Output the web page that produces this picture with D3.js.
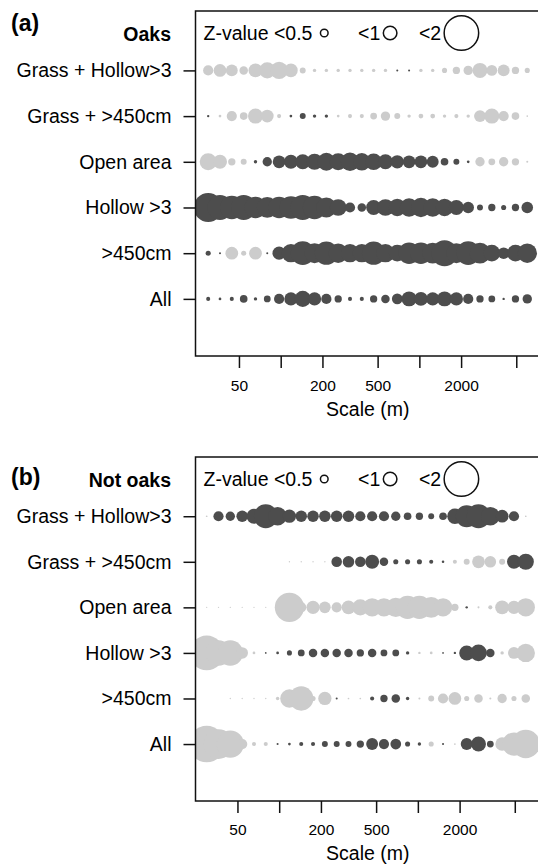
<!DOCTYPE html>
<html><head><meta charset="utf-8">
<script src="https://cdn.jsdelivr.net/npm/d3@7"></script>
<style>
body{margin:0;background:#fff}
svg{display:block}
text{font-family:"Liberation Sans",Arial,Helvetica,sans-serif;fill:#000}
</style>
</head><body>
<svg id="chart" width="538" height="864"></svg>
<script>
// ---- data ----
const scalesM = [30, 36.5, 44.4, 54.1, 65.8, 80.0, 97.4, 118.5, 144.2, 175.4, 213.5, 259.8, 316.1, 384.6,
                 468.0, 569.5, 693.0, 843.2, 1026, 1248, 1519, 1849, 2250, 2737, 3331, 4053, 4932, 6000];
const habitats = ["Grass + Hollow>3", "Grass + >450cm", "Open area", "Hollow >3", ">450cm", "All"];

// signed Z-values (positive = dark, negative = light), one per scale; null = not shown
const oaksGrassHollow = [-0.6,-0.75,-0.7,-0.5,-0.82,-0.95,-1.02,-0.8,-0.35,-0.2,-0.2,-0.2,-0.2,-0.2,-0.2,-0.2,0.12,0.12,-0.2,-0.2,-0.3,-0.43,-0.55,-0.88,-0.63,-0.7,-0.43,-0.3];
const oaksGrass450   = [0.14,-0.16,-0.6,-0.45,-0.88,-0.75,-0.24,0.16,0.35,0.2,0.2,-0.16,-0.24,-0.24,-0.4,-0.55,-0.35,-0.2,-0.28,-0.28,-0.2,-0.24,-0.2,-0.7,-0.88,-0.6,-0.45,-0.1];
const oaksOpen       = [-1.0,-0.82,-0.43,-0.35,0.2,0.55,0.75,0.82,0.88,0.95,1.05,1.0,1.08,1.02,0.98,0.88,0.78,0.75,0.75,0.7,0.45,0.35,0.16,-0.55,-0.4,-0.55,-0.43,-0.12];
const oaksHollow     = [1.7,1.47,1.37,1.47,1.27,1.22,1.27,1.33,1.47,1.37,1.18,0.98,0.6,0.5,0.88,0.98,1.02,1.08,1.14,1.08,1.02,0.88,0.68,0.35,0.43,0.3,0.43,0.68];
const oaks450        = [0.3,0.12,-0.75,-0.3,-0.75,0.12,0.78,1.08,1.4,1.18,1.37,1.14,1.08,1.08,1.37,1.08,0.98,1.27,1.27,1.22,1.53,1.18,1.4,1.22,0.98,0.68,0.98,1.14];
const oaksAll        = [0.24,0.16,0.24,0.45,0.2,0.4,0.6,0.78,0.95,0.78,0.6,0.43,0.24,0.24,0.43,0.5,0.63,0.88,0.82,0.78,0.88,0.78,0.6,0.43,0.4,0.14,0.43,0.55];

const notGrassHollow = [-0.1,0.6,0.55,0.68,0.88,1.4,1.08,0.78,0.68,0.68,0.68,0.68,0.68,0.6,0.6,0.6,0.55,0.45,0.43,0.35,0.45,0.9,1.3,1.4,1.1,0.75,0.6,-0.1];
const notGrass450    = [null,null,null,null,null,null,null,-0.08,-0.08,-0.08,-0.08,0.62,0.68,0.62,0.82,0.5,0.3,0.3,0.3,0.24,0.15,-0.24,-0.35,-0.75,-0.68,-0.35,0.82,0.95];
const notOpen        = [-0.08,-0.08,-0.08,-0.08,-0.08,-0.08,-0.1,-1.72,-0.6,-0.78,-0.68,-0.6,-0.8,-0.95,-1.08,-1.08,-1.14,-1.37,-1.37,-1.22,-1.08,-0.43,0.14,-0.12,-0.24,-0.82,-0.78,-1.08];
const notHollow      = [-2.04,-1.5,-1.5,-0.68,-0.16,0.1,0.16,0.3,0.4,0.5,0.5,0.5,0.5,0.43,0.5,0.4,0.4,0.2,-0.14,-0.16,0.1,0.14,0.88,0.98,0.5,-0.2,-0.7,-1.08];
const not450         = [null,null,-0.08,-0.08,-0.08,-0.08,-0.2,-1.08,-1.43,-0.3,-0.78,0.12,-0.1,-0.1,0.24,0.43,0.5,0.2,-0.12,-0.35,-0.6,-0.75,-0.3,-0.5,-0.12,-0.55,-0.3,-0.5];
const notAll         = [-2.15,-1.75,-1.6,-0.6,-0.24,-0.24,0.12,0.16,0.24,0.24,0.35,0.35,0.35,0.43,0.7,0.6,0.63,0.3,0.2,-0.3,0.12,-0.1,0.7,0.88,0.4,-0.8,-1.37,-1.67];

const tickValues = [50, 100, 200, 500, 1000, 2000, 5000];
const tickLabels = ["50", "", "200", "500", "", "2000", ""];
const legendLabels = ["Z-value <0.5", "<1", "<2"];
const legendSizes = [0.45, 0.8, 2.03];
const panelLetters = ["(a)", "(b)"];
const panelTitles = ["Oaks", "Not oaks"];
const axisTitle = "Scale (m)";

const panelRows = [
  [oaksGrassHollow, oaksGrass450, oaksOpen, oaksHollow, oaks450, oaksAll],
  [notGrassHollow, notGrass450, notOpen, notHollow, not450, notAll]
];

// ---- layout ----
const svg = d3.select("#chart");
const left = 195.5, right = 540;
const panelsLayout = [
  {top: 11, bottom: 356, letterY: 31, titleY: 40.5, tickLabelY: 12, titleAxisY: 416, dx: 0},
  {top: 457, bottom: 801, letterY: 485, titleY: 486.5, tickLabelY: 11, titleAxisY: 860, dx: -1.5}
];
const dark = "#4d4d4d", light = "#cccccc";
const rScale = d3.scaleLinear().domain([0, 2]).range([0, 17]);
const legendGaps = [30, 22, 0];

panelsLayout.forEach((L, p) => {
  const x = d3.scaleLog().domain([24.3, 7413]).range([left + L.dx, right + L.dx]);
  const y = d3.scaleLinear().domain([-1.25, 6.3]).range([L.bottom, L.top]);
  const g = svg.append("g");

  const clipId = "clip" + p;
  svg.append("clipPath").attr("id", clipId).append("rect")
    .attr("x", left).attr("y", L.top).attr("width", right - left).attr("height", L.bottom - L.top);

  const pts = g.append("g").attr("clip-path", `url(#${clipId})`);
  panelRows[p].forEach((vals, i) => {
    const rowVal = 5 - i;
    const data = vals.map((z, j) => ({z, s: scalesM[j]})).filter(d => d.z !== null);
    pts.selectAll(null).data(data).enter().append("circle")
      .attr("cx", d => x(d.s))
      .attr("cy", y(rowVal))
      .attr("r", d => rScale(Math.abs(d.z)))
      .attr("fill", d => d.z > 0 ? dark : light);
  });

  // frame
  g.append("rect").attr("x", left).attr("y", L.top)
    .attr("width", right - left).attr("height", L.bottom - L.top)
    .attr("fill", "none").attr("stroke", "#111").attr("stroke-width", 1.5);

  // left axis
  const ya = g.append("g").attr("transform", `translate(${left},0)`)
    .call(d3.axisLeft(y).tickValues([0,1,2,3,4,5]).tickFormat(d => habitats[5 - d]).tickSize(12).tickPadding(12));
  ya.select(".domain").remove();
  ya.selectAll(".tick line").attr("stroke", "#111").attr("stroke-width", 1.5);
  ya.selectAll(".tick text").attr("font-size", "19.5px").attr("fill", "#000")
    .attr("font-family", '"Liberation Sans",Arial,sans-serif');

  // bottom axis
  const xa = g.append("g").attr("transform", `translate(0,${L.bottom})`)
    .call(d3.axisBottom(x).tickValues(tickValues).tickFormat((d, i) => tickLabels[i]).tickSize(12).tickPadding(L.tickLabelY));
  xa.select(".domain").remove();
  xa.selectAll(".tick line").attr("stroke", "#111").attr("stroke-width", 1.5);
  xa.selectAll(".tick text").attr("font-size", "15.5px").attr("fill", "#000")
    .attr("font-family", '"Liberation Sans",Arial,sans-serif');

  g.append("text").attr("x", (left + right) / 2).attr("y", L.titleAxisY)
    .attr("text-anchor", "middle").attr("font-size", "19.5px").text(axisTitle);

  // panel letter and title
  g.append("text").attr("x", 11).attr("y", L.letterY)
    .attr("font-size", "23px").attr("font-weight", "bold").text(panelLetters[p]);
  g.append("text").attr("x", 171).attr("y", L.titleY).attr("text-anchor", "end")
    .attr("font-size", "19.5px").attr("font-weight", "bold").text(panelTitles[p]);

  // legend
  const legY = L.top + 22;
  const lg = g.append("g");
  let cx = left + 8;
  legendLabels.forEach((lab, k) => {
    const t = lg.append("text").attr("x", cx).attr("y", legY + 6.5)
      .attr("font-size", "19.5px").text(lab);
    const w = t.node().getComputedTextLength();
    const r = rScale(legendSizes[k]);
    const ccx = cx + w + 3 + r + (k === 0 ? 5 : 0);
    lg.append("circle").attr("cx", ccx).attr("cy", legY).attr("r", r)
      .attr("fill", "none").attr("stroke", "#111").attr("stroke-width", 1.5);
    cx = ccx + r + legendGaps[k];
  });
});
</script>
</body></html>
